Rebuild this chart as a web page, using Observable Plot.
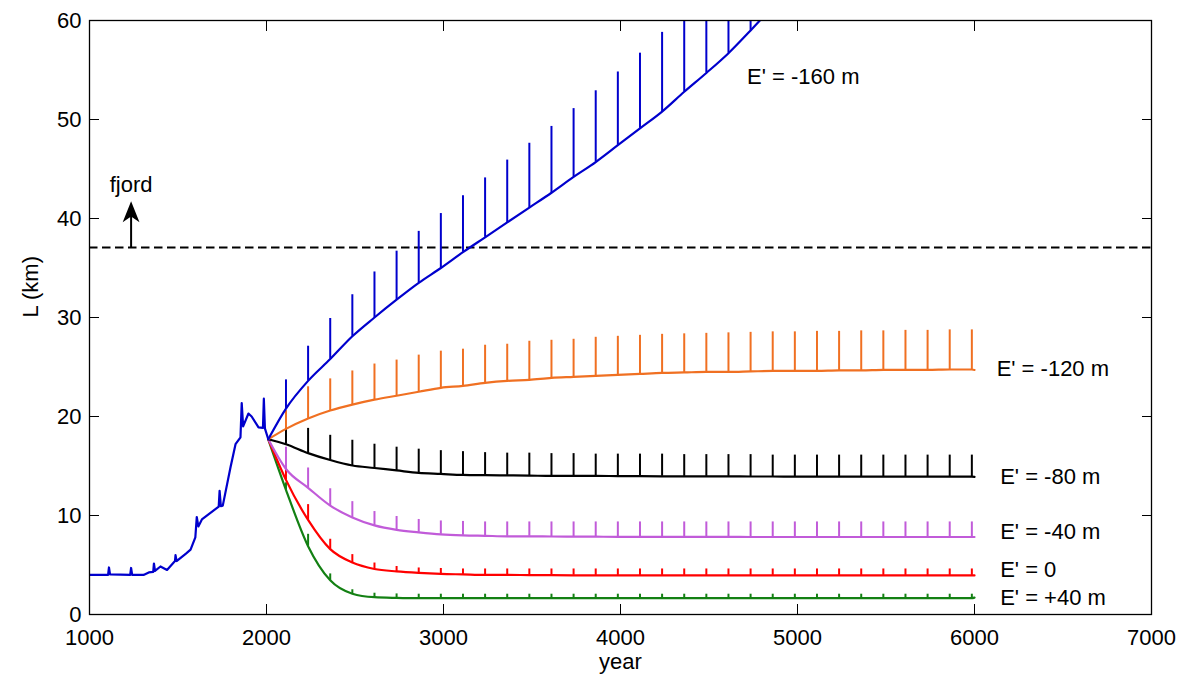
<!DOCTYPE html>
<html>
<head>
<meta charset="utf-8">
<script src="https://cdn.jsdelivr.net/npm/d3@7"></script>
<script src="https://cdn.jsdelivr.net/npm/@observablehq/plot@0.6"></script>
<style>
  html, body { margin: 0; padding: 0; background: #fff; }
  #chart { width: 1186px; height: 684px; }
</style>
</head>
<body>
<div id="chart"></div>
<script>
// ---------- data ----------
const xTicks = [1000, 2000, 3000, 4000, 5000, 6000, 7000];
const yTicks = [0, 10, 20, 30, 40, 50, 60];

// historical run (blue)
const histYears = [1000, 1105, 1110, 1116, 1230, 1235, 1241, 1305, 1335, 1360, 1364, 1370, 1401, 1438, 1483, 1486, 1492, 1545, 1571, 1598, 1606, 1615, 1635, 1730, 1735, 1742, 1753, 1797, 1825, 1853, 1860, 1868, 1898, 1916, 1955, 1980, 1985, 1991, 2010];
const histL     = [4.0, 4.0, 4.75, 4.05, 4.0, 4.7, 4.0, 4.0, 4.25, 4.3, 5.15, 4.4, 4.85, 4.5, 5.4, 6.0, 5.4, 6.15, 6.55, 7.8, 9.85, 8.9, 9.6, 10.9, 12.5, 10.95, 11.0, 14.9, 17.2, 17.9, 21.35, 19.0, 20.3, 20.0, 18.9, 18.85, 21.8, 18.8, 17.7];

// common start of the future runs
const startYear = 2010;
const startL = 17.7;

// surge years
const surgeYears = [2110, 2235, 2360, 2485, 2610, 2735, 2860, 2985, 3110, 3235, 3360, 3485, 3610, 3735, 3860, 3985, 4110, 4235, 4360, 4485, 4610, 4735, 4860, 4985, 5110, 5235, 5360, 5485, 5610, 5735, 5860, 5985];

// E' = -160 m
const m160Base = [20.8, 23.6, 25.8, 28.1, 30.0, 31.8, 33.5, 35.0, 36.6, 38.1, 39.6, 41.1, 42.6, 44.2, 45.7, 47.4, 49.1, 50.8, 52.8, 54.7, 56.7, 59.0];
const m160Peak = [23.7, 27.1, 29.9, 32.3, 34.6, 36.7, 38.7, 40.5, 42.3, 44.1, 45.9, 47.6, 49.3, 51.1, 52.9, 54.8, 56.7, 58.8, 61.2, 63.3, 65.5, 67.8];
const m160End = [4860, 61.4];

// E' = -120 m
const m120Base = [18.75, 19.8, 20.6, 21.2, 21.7, 22.1, 22.5, 22.9, 23.1, 23.4, 23.6, 23.7, 23.9, 24.0, 24.1, 24.2, 24.3, 24.4, 24.45, 24.5, 24.5, 24.55, 24.6, 24.6, 24.6, 24.65, 24.65, 24.7, 24.7, 24.7, 24.75, 24.75];
const m120Peak = [20.6, 23.0, 23.8, 24.6, 25.3, 25.7, 26.2, 26.6, 26.8, 27.2, 27.3, 27.6, 27.7, 27.8, 28.0, 28.1, 28.2, 28.3, 28.35, 28.4, 28.45, 28.5, 28.55, 28.55, 28.6, 28.6, 28.65, 28.65, 28.7, 28.7, 28.75, 28.75];
const m120End = [6000, 24.7];

// E' = -80 m
const m80Base = [17.2, 16.3, 15.6, 15.05, 14.8, 14.55, 14.3, 14.2, 14.1, 14.07, 14.05, 14.03, 14.0, 14.0, 14.0, 13.98, 13.97, 13.96, 13.95, 13.95, 13.95, 13.94, 13.94, 13.93, 13.93, 13.93, 13.92, 13.92, 13.92, 13.92, 13.92, 13.92];
const m80Peak = [18.8, 18.8, 18.1, 17.6, 17.2, 16.9, 16.7, 16.55, 16.45, 16.35, 16.3, 16.3, 16.25, 16.25, 16.2, 16.2, 16.2, 16.2, 16.15, 16.15, 16.15, 16.15, 16.1, 16.1, 16.1, 16.1, 16.1, 16.1, 16.1, 16.1, 16.1, 16.1];
const m80End = [6000, 13.9];

// E' = -40 m
const m40Base = [14.7, 12.8, 11.0, 9.8, 9.0, 8.55, 8.3, 8.1, 8.0, 7.95, 7.9, 7.9, 7.88, 7.87, 7.86, 7.85, 7.85, 7.85, 7.84, 7.84, 7.84, 7.83, 7.83, 7.83, 7.83, 7.83, 7.83, 7.83, 7.83, 7.83, 7.83, 7.83];
const m40Peak = [16.9, 14.8, 12.7, 11.4, 10.4, 9.9, 9.6, 9.45, 9.4, 9.35, 9.35, 9.35, 9.35, 9.35, 9.35, 9.35, 9.35, 9.35, 9.35, 9.35, 9.35, 9.35, 9.35, 9.35, 9.35, 9.35, 9.35, 9.35, 9.35, 9.35, 9.35, 9.35];
const m40End = [6000, 7.83];

// E' = 0
const e0Base = [13.6, 9.55, 6.6, 5.25, 4.6, 4.35, 4.2, 4.1, 4.05, 4.0, 4.0, 3.98, 3.97, 3.96, 3.95, 3.95, 3.95, 3.95, 3.95, 3.95, 3.95, 3.95, 3.95, 3.95, 3.95, 3.95, 3.95, 3.95, 3.95, 3.95, 3.95, 3.95];
const e0Peak = [14.8, 11.1, 7.6, 6.05, 5.2, 4.85, 4.7, 4.65, 4.6, 4.6, 4.6, 4.6, 4.6, 4.6, 4.6, 4.6, 4.6, 4.6, 4.6, 4.6, 4.6, 4.6, 4.6, 4.6, 4.6, 4.6, 4.6, 4.6, 4.6, 4.6, 4.6, 4.6];
const e0End = [6000, 3.95];

// E' = +40 m
const p40Base = [12.6, 6.9, 3.45, 2.1, 1.75, 1.68, 1.65, 1.65, 1.65, 1.65, 1.65, 1.65, 1.65, 1.65, 1.65, 1.65, 1.65, 1.65, 1.65, 1.65, 1.65, 1.65, 1.65, 1.65, 1.65, 1.65, 1.65, 1.65, 1.65, 1.65, 1.65, 1.65];
const p40Peak = [13.3, 8.1, 4.1, 2.5, 2.15, 2.08, 2.05, 2.05, 2.05, 2.05, 2.05, 2.05, 2.05, 2.05, 2.05, 2.05, 2.05, 2.05, 2.05, 2.05, 2.05, 2.05, 2.05, 2.05, 2.05, 2.05, 2.05, 2.05, 2.05, 2.05, 2.05, 2.05];
const p40End = [6000, 1.7];

// series labels
const labelText = ["E' = -160 m", "E' = -120 m", "E' = -80 m", "E' = -40 m", "E' = 0", "E' = +40 m"];
const labelYear = [4715, 6125, 6145, 6145, 6145, 6145];
const labelL    = [54.3, 24.8, 13.9, 8.3, 4.45, 1.65];

// fjord annotation
const fjordLevel = 37.07;
const fjordYear = 1235;
const fjordArrowTip = 41.75;
const fjordTextL = 43.4;

const colors = {
  hist: "#0000cd", m160: "#0000cd", m120: "#f07022", m80: "#000000",
  m40: "#c15bd9", e0: "#ff0000", p40: "#138013"
};

// ---------- build tables ----------
function baseline(name, bases, end) {
  const pts = [{year: startYear, L: startL}];
  bases.forEach((b, i) => pts.push({year: surgeYears[i], L: b}));
  pts.push({year: end[0], L: end[1]});
  return pts.map(p => ({...p, series: name}));
}
function spikes(name, bases, peaks) {
  return bases.map((b, i) => ({year: surgeYears[i], base: b, peak: peaks[i], series: name}));
}

const runDefs = [
  ["p40", p40Base, p40Peak, p40End],
  ["e0", e0Base, e0Peak, e0End],
  ["m40", m40Base, m40Peak, m40End],
  ["m80", m80Base, m80Peak, m80End],
  ["m120", m120Base, m120Peak, m120End],
  ["m160", m160Base, m160Peak, m160End]
];
const hist = histYears.map((y, i) => ({year: y, L: histL[i], series: "hist"}));
const labels = labelText.map((t, i) => ({text: t, year: labelYear[i], L: labelL[i]}));

const FONT = "'Liberation Sans', Arial, Helvetica, sans-serif";
const FS = 22;

// arrowhead symbol (tip at origin, pointing up)
const arrowHead = {
  draw(context, size) {
    const r = Math.sqrt(size / Math.PI);
    const w = r * 0.8, h = r * 2.0, n = r * 1.45;
    context.moveTo(0, 0);
    context.lineTo(-w, h);
    context.lineTo(0, n);
    context.lineTo(w, h);
    context.closePath();
  }
};

const runMarks = runDefs.flatMap(([k, bases, peaks, end]) => [
  Plot.line(baseline(k, bases, end), {x: "year", y: "L", stroke: colors[k], strokeWidth: 2.2, curve: "monotone-x", clip: true}),
  Plot.ruleX(spikes(k, bases, peaks), {x: "year", y1: "base", y2: "peak", stroke: colors[k], strokeWidth: 2, clip: true})
]);

const chart = Plot.plot({
  width: 1186,
  height: 684,
  marginLeft: 89,
  marginRight: 35,
  marginTop: 20,
  marginBottom: 70,
  style: {fontFamily: FONT, fontSize: FS + "px", color: "black", background: "white"},
  x: {domain: [1000, 7000], axis: null},
  y: {domain: [0, 60], axis: null},
  marks: [
    // fjord level
    Plot.ruleY([fjordLevel], {stroke: "black", strokeWidth: 2, strokeDasharray: "8.5,4.5"}),
    Plot.ruleX([fjordYear], {y1: fjordLevel, y2: fjordArrowTip - 1.3, stroke: "black", strokeWidth: 2}),
    Plot.dot([fjordYear], {x: d => d, y: fjordArrowTip, r: 10.5, symbol: arrowHead, fill: "black", stroke: "none"}),
    Plot.text(["fjord"], {x: fjordYear, y: fjordTextL, fontSize: FS, fill: "black"}),
    // runs
    ...runMarks,
    Plot.line(hist, {x: "year", y: "L", stroke: colors.hist, strokeWidth: 2.2, clip: true}),
    // series labels
    Plot.text(labels, {x: "year", y: "L", text: "text", textAnchor: "start", fontSize: FS, fill: "black"}),
    // frame
    Plot.frame({stroke: "black", strokeWidth: 1.3}),
    // inward ticks on all four sides
    Plot.axisX(xTicks, {anchor: "bottom", tickSize: 10, dy: -10, fill: "none", stroke: "black"}),
    Plot.axisX(xTicks, {anchor: "top", tickSize: 10, dy: 10, fill: "none", stroke: "black"}),
    Plot.axisY(yTicks, {anchor: "left", tickSize: 10, dx: 10, fill: "none", stroke: "black"}),
    Plot.axisY(yTicks, {anchor: "right", tickSize: 10, dx: -10, fill: "none", stroke: "black"}),
    // tick labels
    Plot.axisX(xTicks, {anchor: "bottom", tickSize: 0, tickPadding: 15, tickFormat: d => String(d), fontSize: FS, fill: "black", label: null}),
    Plot.axisY(yTicks, {anchor: "left", tickSize: 0, tickPadding: 8, tickFormat: d => String(d), fontSize: FS, fill: "black", label: null}),
    // axis titles
    Plot.text(["year"], {frameAnchor: "bottom", dy: 54, fontSize: FS, fill: "black"}),
    Plot.text(["L (km)"], {frameAnchor: "left", dx: -59, rotate: -90, fontSize: FS, fill: "black"})
  ]
});

document.getElementById("chart").appendChild(chart);
</script>
</body>
</html>
